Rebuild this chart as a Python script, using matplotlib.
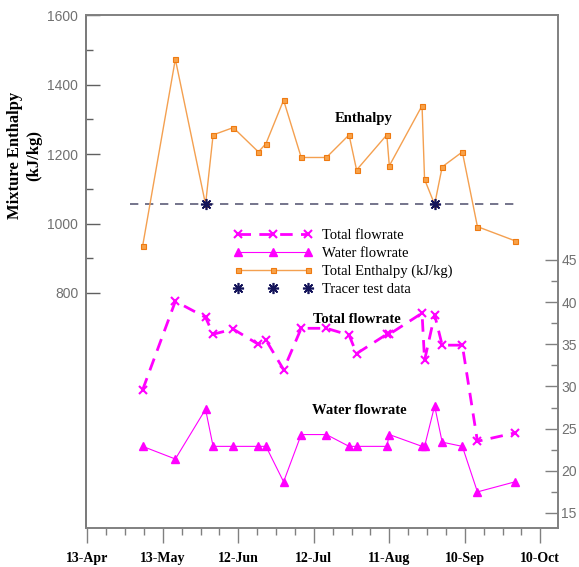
import numpy as np
import pandas as pd
import matplotlib
matplotlib.use('Agg')
import matplotlib.pyplot as plt
import matplotlib.dates as mdates
from matplotlib.ticker import FixedLocator, NullFormatter

# sampling dates (2003 season)
dates = ['2003-05-05', '2003-05-18', '2003-05-30', '2003-06-02', '2003-06-10',
         '2003-06-20', '2003-06-23', '2003-06-30', '2003-07-07', '2003-07-17',
         '2003-07-26', '2003-07-29', '2003-08-10', '2003-08-11', '2003-08-24',
         '2003-08-25', '2003-08-29', '2003-09-01', '2003-09-09', '2003-09-15',
         '2003-09-30']
enthalpy = [935, 1473, 1055, 1255, 1276, 1206, 1230, 1355, 1190, 1190,
            1255, 1154, 1255, 1166, 1339, 1127, 1055, 1163, 1206, 991, 950]
total_flow = [29.6, 40.1, 38.2, 36.2, 36.8, 35.0, 35.5, 32.0, 36.9, 36.9,
              36.1, 33.9, 36.2, 36.2, 38.7, 33.1, 38.5, 34.9, 34.9, 23.5, 24.5]
water_flow = [22.9, 21.4, 27.3, 22.9, 22.9, 22.9, 22.9, 18.7, 24.3, 24.3,
              22.9, 22.9, 22.9, 24.3, 22.9, 22.9, 27.7, 23.4, 22.9, 17.5, 18.7]

tracer_dates = ['2003-05-30', '2003-08-29']
tracer_enthalpy = [1055, 1055]
tracer_span = ['2003-04-30', '2003-10-01']

tick_dates = ['2003-04-13', '2003-05-13', '2003-06-12', '2003-07-12',
              '2003-08-11', '2003-09-10', '2003-10-10']
tick_labels = ['13-Apr', '13-May', '12-Jun', '12-Jul', '11-Aug', '10-Sep', '10-Oct']

x = mdates.date2num(pd.to_datetime(dates))
xt = mdates.date2num(pd.to_datetime(tracer_dates))
xs = mdates.date2num(pd.to_datetime(tracer_span))
xticks = mdates.date2num(pd.to_datetime(tick_dates))

serif = 'Liberation Serif'
sans = 'Liberation Sans'
magenta = '#ff00ff'
navy = '#14145a'
grey = '#808080'

fig = plt.figure(figsize=(5.79, 5.67), dpi=100)
ax = fig.add_axes([0.1485, 0.0688, 0.8152, 0.9047])
ax2 = ax.twinx()

# enthalpy on the left axis
ax.hlines(tracer_enthalpy[0], xs[0], xs[1], colors='#5c5c78', linestyles=(0, (5, 4)), lw=1.2)
l_ent, = ax.plot(x, enthalpy, color='#f4a050', lw=1.0, marker='s', ms=3.6,
                 mfc='#f7a24a', mec='#ef7a10', mew=0.8, zorder=3)
l_tr, = ax.plot(xt, tracer_enthalpy, ls='none', marker=(8, 2, 0), ms=8, mew=1.2,
                color=navy, zorder=4)

# flowrates on the right axis
l_tot, = ax2.plot(x, total_flow, color=magenta, lw=2.0, ls=(0, (4.5, 3)), marker='x',
                  ms=6, mew=1.5)
l_wat, = ax2.plot(x, water_flow, color=magenta, lw=0.8, marker='^', ms=6)

ax.set_xlim(xticks[0] - 0.5, xticks[0] + 187)
ax.set_ylim(123.7, 1600)
ax2.set_ylim(13.22, 74.05)

ax.xaxis.set_major_locator(FixedLocator(xticks))
ax.xaxis.set_minor_locator(FixedLocator(np.arange(xticks[0], xticks[0] + 187, 7.5)))
ax.set_xticklabels(tick_labels, fontfamily=serif, fontweight='bold', fontsize=10)
ax.xaxis.set_minor_formatter(NullFormatter())
ax.tick_params(axis='x', which='major', direction='out', length=10.5, width=1, color=grey, pad=7)
ax.tick_params(axis='x', which='minor', direction='out', length=5, width=1, color=grey)

ax.yaxis.set_major_locator(FixedLocator(np.arange(800, 1601, 200)))
ax.yaxis.set_minor_locator(FixedLocator(np.arange(900, 1600, 200)))
ax.tick_params(axis='y', which='major', direction='in', length=10, width=1, color='#606060',
               labelsize=10, labelcolor='#707070', pad=5.5)
ax.tick_params(axis='y', which='minor', direction='in', length=5, width=1, color='#606060')
for t in ax.get_yticklabels():
    t.set_fontfamily(sans)

ax2.yaxis.set_major_locator(FixedLocator(np.arange(15, 46, 5)))
ax2.yaxis.set_minor_locator(FixedLocator(np.arange(17.5, 45, 5)))
ax2.tick_params(axis='y', which='major', direction='in', length=9.5, width=1, color=grey,
                labelsize=10, labelcolor='#707070', pad=2.5)
ax2.tick_params(axis='y', which='minor', direction='in', length=5, width=1, color=grey)
for t in ax2.get_yticklabels():
    t.set_fontfamily(sans)

for a in (ax, ax2):
    for s in a.spines.values():
        s.set_color(grey)
        s.set_linewidth(1.2)
ax.spines['left'].set_color('#505050')

ax.set_ylabel('Mixture Enthalpy\n(kJ/kg)', fontfamily=serif, fontweight='bold',
              fontsize=12, linespacing=1.25)
ax.yaxis.set_label_coords(-0.093, 0.727)

# series captions
ax.text(mdates.date2num(pd.Timestamp('2003-08-01')), 1303, 'Enthalpy',
        fontfamily=serif, fontweight='bold', fontsize=10.5, ha='center', va='center')
ax2.text(mdates.date2num(pd.Timestamp('2003-07-29')), 37.9, 'Total flowrate',
         fontfamily=serif, fontweight='bold', fontsize=10.5, ha='center', va='center')
ax2.text(mdates.date2num(pd.Timestamp('2003-07-30')), 27.1, 'Water flowrate',
         fontfamily=serif, fontweight='bold', fontsize=10.5, ha='center', va='center')

leg = fig.legend([l_tot, l_wat, l_ent, l_tr],
                 ['Total flowrate', 'Water flowrate', 'Total Enthalpy (kJ/kg)', 'Tracer test data'],
                 loc='upper left', bbox_to_anchor=(0.404, 0.597), frameon=False,
                 numpoints=3, handlelength=5.4, handletextpad=0.65, labelspacing=0.33,
                 borderpad=0, borderaxespad=0, prop={'family': serif, 'size': 10.5})

fig.savefig('out.png', dpi=100)
